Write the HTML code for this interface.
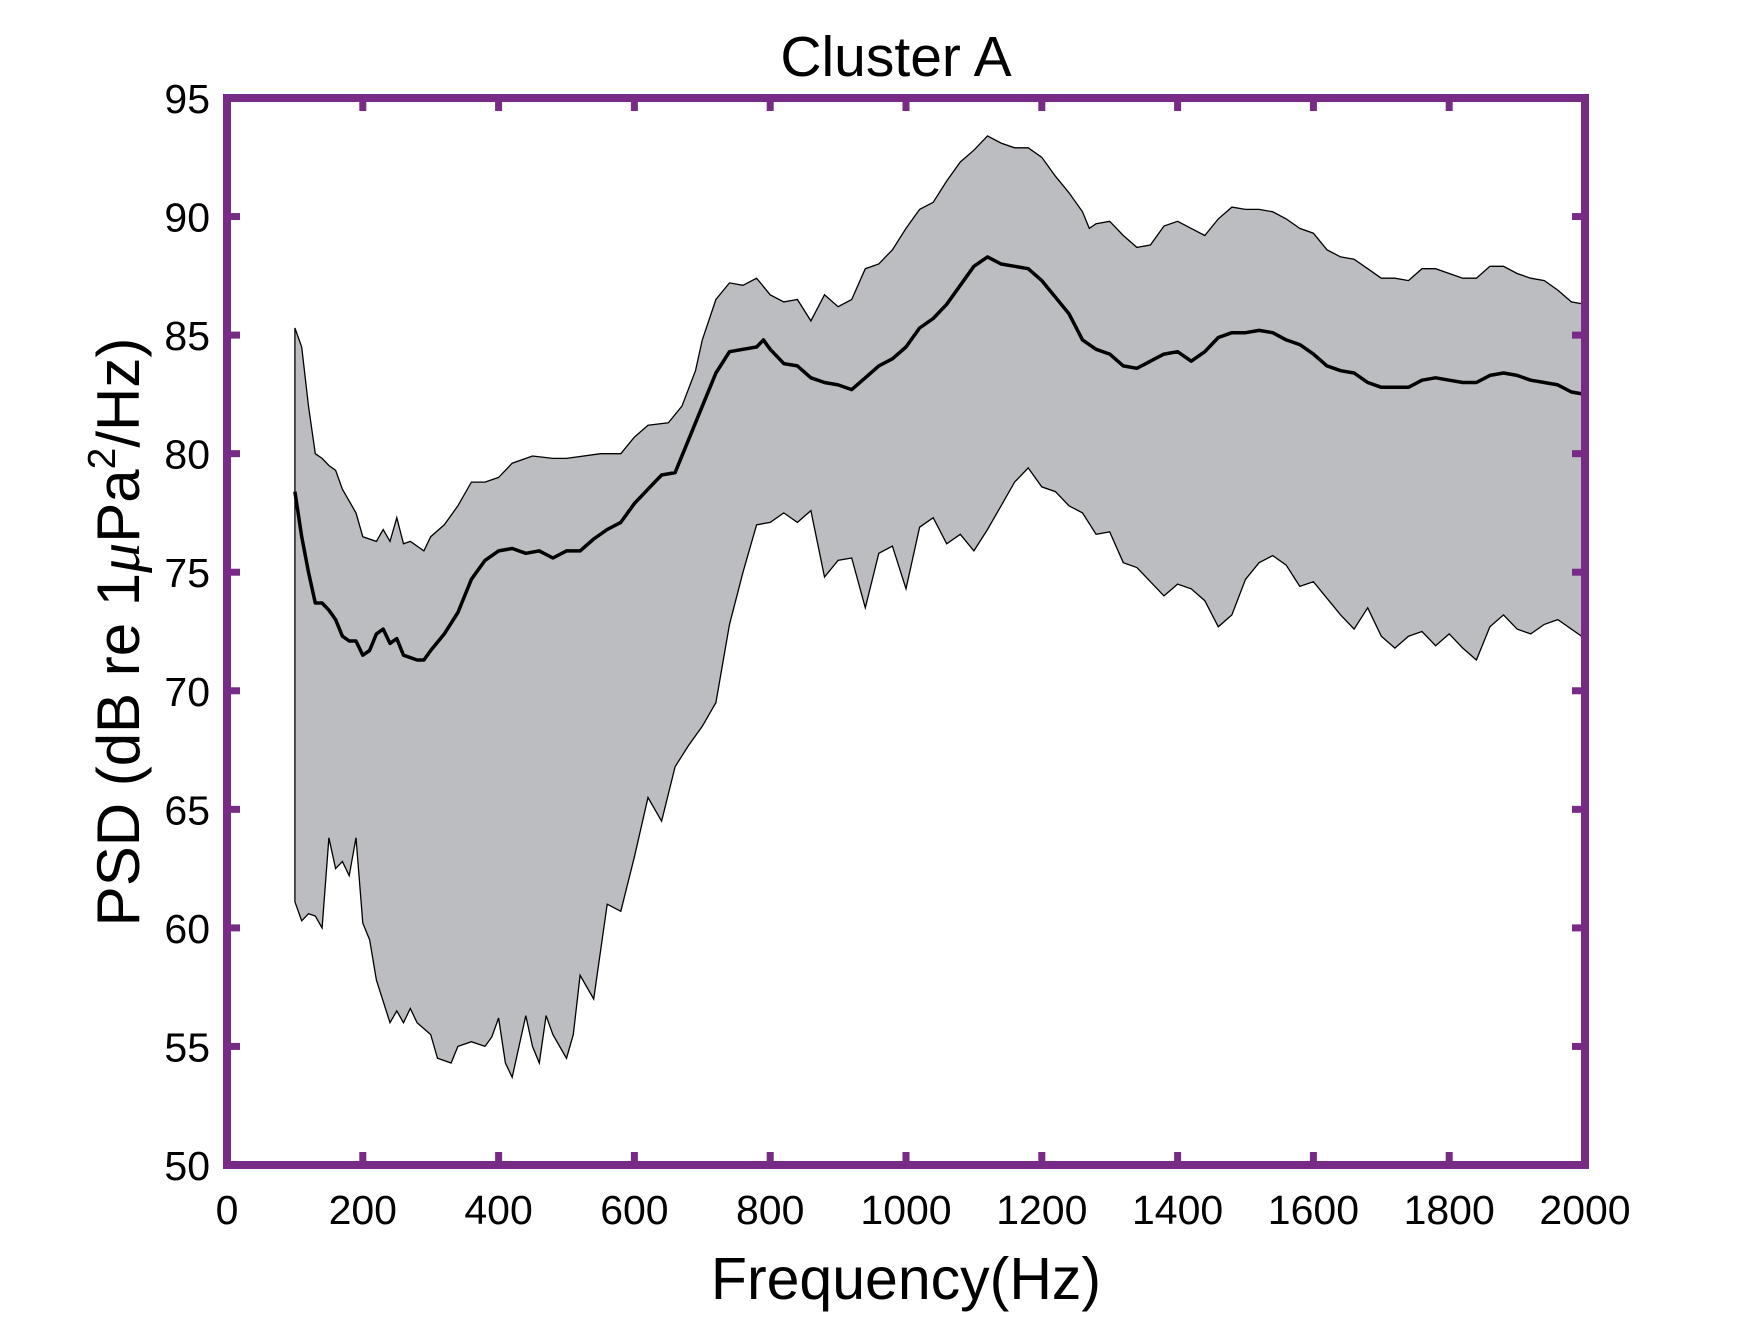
<!DOCTYPE html>
<html><head><meta charset="utf-8"><style>
html,body{margin:0;padding:0;background:#fff;}
svg{display:block;font-family:"Liberation Sans",Arial,sans-serif;}
</style></head><body>
<svg id="chart" width="1750" height="1319" viewBox="0 0 1750 1319">
<g id="plot"></g>
</svg>
<script>
const upperF=[100,110,120,130,140,150,160,170,180,190,200,220,230,240,250,260,270,290,300,320,340,360,380,400,420,450,480,500,550,580,600,620,650,670,690,700,720,740,760,780,800,820,840,860,880,900,920,940,960,980,1000,1020,1040,1060,1080,1100,1120,1140,1160,1180,1200,1220,1240,1260,1270,1280,1300,1320,1340,1360,1380,1400,1420,1440,1460,1480,1500,1520,1540,1560,1580,1600,1620,1640,1660,1680,1700,1720,1740,1760,1780,1800,1820,1840,1860,1880,1900,1920,1940,1960,1980,2000];
const upperV=[85.3,84.5,82,80,79.8,79.5,79.3,78.5,78,77.5,76.5,76.3,76.8,76.3,77.3,76.2,76.3,75.9,76.5,77,77.8,78.8,78.8,79,79.6,79.9,79.8,79.8,80,80,80.7,81.2,81.3,82,83.5,84.8,86.5,87.2,87.1,87.4,86.7,86.4,86.5,85.6,86.7,86.2,86.5,87.8,88.0,88.6,89.5,90.3,90.6,91.5,92.3,92.8,93.4,93.1,92.9,92.9,92.5,91.7,91.0,90.2,89.5,89.7,89.8,89.2,88.7,88.8,89.6,89.8,89.5,89.2,89.9,90.4,90.3,90.3,90.2,89.9,89.5,89.3,88.6,88.3,88.2,87.8,87.4,87.4,87.3,87.8,87.8,87.6,87.4,87.4,87.9,87.9,87.6,87.4,87.3,86.9,86.4,86.3];
const meanF=[100,110,120,130,140,150,160,170,180,190,200,210,220,230,240,250,260,280,290,300,320,340,360,380,400,420,440,460,480,500,520,540,560,580,600,620,640,660,680,700,720,740,760,780,790,800,820,840,860,880,900,920,940,960,980,1000,1020,1040,1060,1080,1100,1120,1140,1160,1180,1200,1220,1240,1260,1280,1300,1320,1340,1360,1380,1400,1420,1440,1460,1480,1500,1520,1540,1560,1580,1600,1620,1640,1660,1680,1700,1720,1740,1760,1780,1800,1820,1840,1860,1880,1900,1920,1940,1960,1980,2000];
const meanV=[78.4,76.5,75,73.7,73.7,73.4,73,72.3,72.1,72.1,71.5,71.7,72.4,72.6,72.0,72.2,71.5,71.3,71.3,71.7,72.4,73.3,74.7,75.5,75.9,76.0,75.8,75.9,75.6,75.9,75.9,76.4,76.8,77.1,77.9,78.5,79.1,79.2,80.6,82.0,83.4,84.3,84.4,84.5,84.8,84.4,83.8,83.7,83.2,83.0,82.9,82.7,83.2,83.7,84.0,84.5,85.3,85.7,86.3,87.1,87.9,88.3,88.0,87.9,87.8,87.3,86.6,85.9,84.8,84.4,84.2,83.7,83.6,83.9,84.2,84.3,83.9,84.3,84.9,85.1,85.1,85.2,85.1,84.8,84.6,84.2,83.7,83.5,83.4,83.0,82.8,82.8,82.8,83.1,83.2,83.1,83.0,83.0,83.3,83.4,83.3,83.1,83.0,82.9,82.6,82.5];
const lowerF=[100,110,120,130,140,150,160,170,180,190,200,210,220,240,250,260,270,280,300,310,330,340,360,380,390,400,410,420,440,450,460,470,480,500,510,520,540,560,580,600,620,640,660,680,700,720,740,760,780,800,820,840,860,880,900,920,940,960,980,1000,1020,1040,1060,1080,1100,1120,1140,1160,1180,1200,1220,1240,1260,1280,1300,1320,1340,1360,1380,1400,1420,1440,1460,1480,1500,1520,1540,1560,1580,1600,1620,1640,1660,1680,1700,1720,1740,1760,1780,1800,1820,1840,1860,1880,1900,1920,1940,1960,1980,2000];
const lowerV=[61.1,60.3,60.6,60.5,60,63.8,62.5,62.8,62.2,63.8,60.2,59.5,57.8,56,56.5,56,56.6,56,55.5,54.5,54.3,55,55.2,55,55.4,56.2,54.3,53.7,56.3,55,54.3,56.3,55.5,54.5,55.5,58,57,61,60.7,63,65.5,64.5,66.8,67.7,68.5,69.5,72.8,75,77,77.1,77.5,77.1,77.6,74.8,75.5,75.6,73.5,75.8,76.1,74.3,76.9,77.3,76.2,76.6,75.9,76.8,77.8,78.8,79.4,78.6,78.4,77.8,77.5,76.6,76.7,75.4,75.2,74.6,74.0,74.5,74.3,73.8,72.7,73.2,74.7,75.4,75.7,75.3,74.4,74.6,73.9,73.2,72.6,73.5,72.3,71.8,72.3,72.5,71.9,72.4,71.8,71.3,72.7,73.2,72.6,72.4,72.8,73.0,72.6,72.2];
const xTicks=[0,200,400,600,800,1000,1200,1400,1600,1800,2000];
const yTicks=[50,55,60,65,70,75,80,85,90,95];

const L=227,R=1585,T=98,B=1165;
const xs=f=>L+(f-0)/(2000-0)*(R-L);
const ys=v=>B-(v-50)/(95-50)*(B-T);
const NS='http://www.w3.org/2000/svg';
const g=document.getElementById('plot');
function mk(tag,attrs){const e=document.createElementNS(NS,tag);for(const k in attrs)e.setAttribute(k,attrs[k]);g.appendChild(e);return e;}

let d='M'+upperF.map((f,i)=>xs(f).toFixed(1)+','+ys(upperV[i]).toFixed(1)).join(' L');
for(let i=lowerF.length-1;i>=0;i--)d+=' L'+xs(lowerF[i]).toFixed(1)+','+ys(lowerV[i]).toFixed(1);
d+=' Z';
const band=mk('path',{d:d,fill:'#bcbdc0',stroke:'#000','stroke-width':'1.3'});



const mline=mk('path',{d:'M'+meanF.map((f,i)=>xs(f).toFixed(1)+','+ys(meanV[i]).toFixed(1)).join(' L'),fill:'none',stroke:'#000','stroke-width':'3.5','stroke-linejoin':'round'});



const C='#772b86';
xTicks.forEach(t=>{
  const x=xs(t);
  const a=mk('line',{x1:x,y1:B,x2:x,y2:B-13,stroke:C,'stroke-width':'7'});
  
  
  const b=mk('line',{x1:x,y1:T,x2:x,y2:T+13,stroke:C,'stroke-width':'7'});
  
  
  const tx=mk('text',{x:x,y:1224,'font-size':'41','text-anchor':'middle',fill:'#000'});
  tx.textContent=t;
  
  
});
yTicks.forEach(t=>{
  const y=ys(t);
  const a=mk('line',{x1:L,y1:y,x2:L+13,y2:y,stroke:C,'stroke-width':'7'});
  
  
  const b=mk('line',{x1:R,y1:y,x2:R-13,y2:y,stroke:C,'stroke-width':'7'});
  
  
  const tx=mk('text',{x:210,y:y+15,'font-size':'41','text-anchor':'end',fill:'#000'});
  tx.textContent=t;
  
  
});
const frame=mk('rect',{x:L,y:T,width:R-L,height:B-T,fill:'none',stroke:C,'stroke-width':'8'});



const title=mk('text',{x:896,y:76,'font-size':'57','text-anchor':'middle',fill:'#000'});
title.textContent='Cluster A';


const xt=mk('text',{x:906,y:1299,'font-size':'59','text-anchor':'middle',fill:'#000'});
xt.textContent='Frequency(Hz)';


const yt=mk('text',{x:0,y:0,'font-size':'60','text-anchor':'middle',fill:'#000',transform:'translate(139,632) rotate(-90)'});
yt.innerHTML='PSD (dB re 1<tspan font-style="italic" font-family="Liberation Serif, serif">μ</tspan>Pa<tspan font-size="39" dy="-24">2</tspan><tspan dy="24">/Hz)</tspan>';


</script>
</body></html>
